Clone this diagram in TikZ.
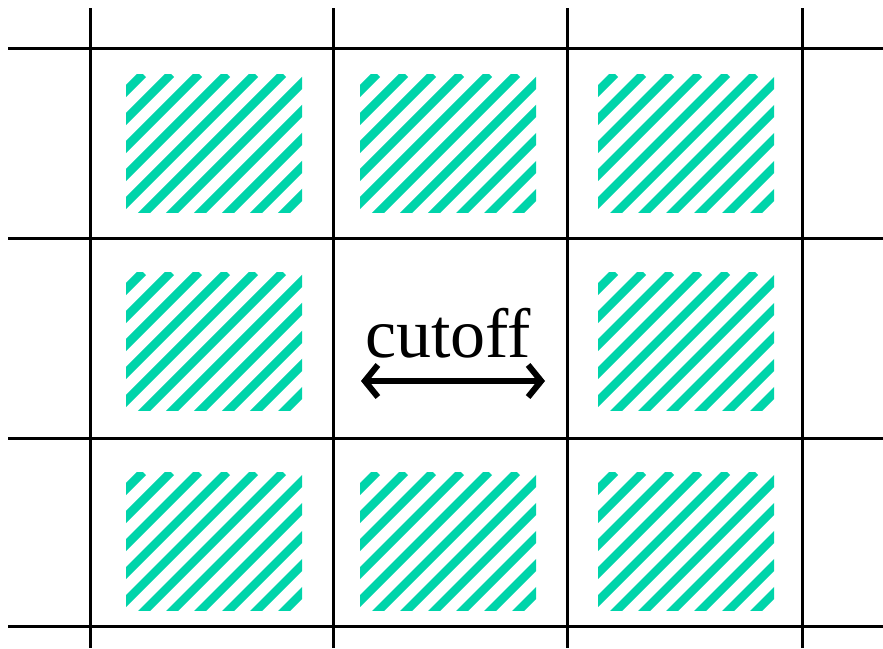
\documentclass[tikz,border=0pt]{standalone}
\usepackage{fontspec}
\setmainfont{Liberation Serif}
\usetikzlibrary{arrows.meta,positioning}
\definecolor{Teal}{RGB}{0,212,170}
\definecolor{ShadowGray}{RGB}{210,210,210}

\begin{document}
\begin{tikzpicture}[x=1pt,y=-1pt]
\useasboundingbox (0,0) rectangle (883,648);
% grid lines
\foreach \gx in {90,333,567,802} \draw[line width=3pt] (\gx,8) -- (\gx,648);
\foreach \gy in {48,238,438,626} \draw[line width=3pt] (8,\gy) -- (883,\gy);
% hatched cells
\foreach \bx/\by in {126/74,360/74,598/74,126/272,598/272,126/472,360/472,598/472}{
  \begin{scope}
  \clip (\bx,\by) rectangle ++(176,138);
  \foreach \k in {0,...,11} \draw[Teal,line width=8.5pt] (\bx+17+28*\k,\by) -- ++(-200,200);
  \end{scope}
}
% centre cell
\node[anchor=base,font=\fontsize{70}{80}\selectfont,inner sep=0pt] (cut) at (448,357) {cutoff};
\coordinate (la) at (361,381);
\coordinate (ra) at (545,381);
\draw[{Straight Barb[length=13pt,width=32pt,line width=6pt]}-{Straight Barb[length=13pt,width=32pt,line width=6pt]},line width=6pt,ShadowGray,line cap=round,shift={(3,4)}] (la) -- (ra);
\draw[{Straight Barb[length=13pt,width=32pt,line width=6pt]}-{Straight Barb[length=13pt,width=32pt,line width=6pt]},line width=6pt,line cap=round] (la) -- (ra);
\end{tikzpicture}
\end{document}
